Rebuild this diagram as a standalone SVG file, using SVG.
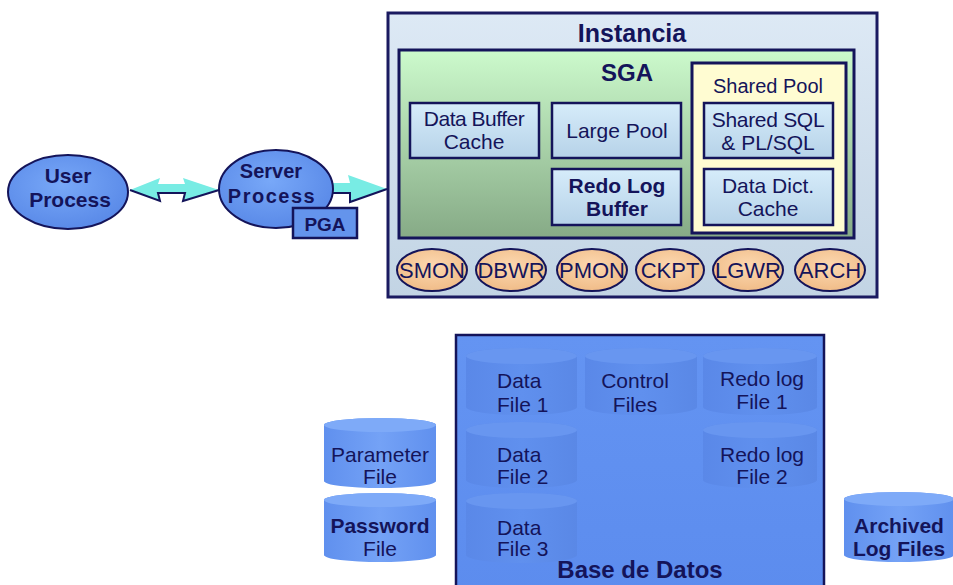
<svg xmlns="http://www.w3.org/2000/svg" width="953" height="585" viewBox="0 0 953 585">
<defs>
<linearGradient id="gInst" x1="0" y1="0" x2="0" y2="1"><stop offset="0" stop-color="#dde9f5"/><stop offset="1" stop-color="#c2d4e4"/></linearGradient>
<linearGradient id="gSga" x1="0" y1="0" x2="0" y2="1"><stop offset="0" stop-color="#ccfacc"/><stop offset="1" stop-color="#86aa86"/></linearGradient>
<linearGradient id="gBox" x1="0" y1="0" x2="0" y2="1"><stop offset="0" stop-color="#d6ecfa"/><stop offset="1" stop-color="#b6d2e8"/></linearGradient>
<radialGradient id="gBg" cx="0.5" cy="0.4" r="0.6"><stop offset="0" stop-color="#fcd8b0"/><stop offset="1" stop-color="#f0bc88"/></radialGradient>
<radialGradient id="gProc" cx="0.45" cy="0.4" r="0.6"><stop offset="0" stop-color="#78a8f8"/><stop offset="1" stop-color="#5a8ae8"/></radialGradient>
<linearGradient id="gDb" x1="0" y1="0" x2="0" y2="1"><stop offset="0" stop-color="#6494f2"/><stop offset="1" stop-color="#5c8cee"/></linearGradient>
<linearGradient id="gCylIn" x1="0" y1="0" x2="1" y2="0"><stop offset="0" stop-color="#5a88e8"/><stop offset="0.5" stop-color="#6090ee"/><stop offset="1" stop-color="#5a88e6"/></linearGradient>
<linearGradient id="gCylOut" x1="0" y1="0" x2="1" y2="0"><stop offset="0" stop-color="#6090ee"/><stop offset="0.5" stop-color="#74a2f6"/><stop offset="1" stop-color="#6090ee"/></linearGradient>
</defs>
<style>
text{font-family:"Liberation Sans",Arial,sans-serif;fill:#14145a;text-anchor:middle}
.t{font-size:21px}
.b{font-weight:bold}
.st{text-anchor:start}
.box{fill:url(#gBox);stroke:#14145a;stroke-width:2.5}
.bg{fill:url(#gBg);stroke:#14145a;stroke-width:2}
.proc{fill:url(#gProc);stroke:#14145a;stroke-width:2}
.cin{fill:url(#gCylIn)}
.cintop{fill:#6896f0}
.cout{fill:url(#gCylOut)}
.couttop{fill:#7eaaf8}
.arrow{fill:#78ece4}
.ashadow{fill:none;stroke:#14145a;stroke-width:2}
</style>

<g id="connectors">
  <polygon class="arrow" points="130,190 160,178 158,184 185,184 183,178 219,190 183,201 185,193 158,193 160,201"/>
  <polyline class="ashadow" points="130,190 160,201 158,193 185,193 183,201 219,190"/>
  <polygon class="arrow" points="333,183 350,183 348,175 387,189 350,202 350,193 333,193"/>
  <polyline class="ashadow" points="333,193 350,193 350,202 387,189"/>
</g>

<g id="user-process">
  <ellipse class="proc" cx="68" cy="192" rx="60" ry="37"/>
  <text class="b" x="68" y="183" font-size="21">User</text>
  <text class="b" x="70" y="207" font-size="21">Process</text>
</g>

<g id="server-process">
  <ellipse class="proc" cx="276" cy="189" rx="57" ry="39"/>
  <text class="b" x="271" y="178" font-size="20">Server</text>
  <text class="b" x="272" y="203" font-size="20" letter-spacing="1.5">Process</text>
</g>

<g id="pga">
  <rect x="293" y="208" width="64" height="30" fill="#6494ec" stroke="#14145a" stroke-width="2.5"/>
  <text class="b" x="325" y="231" font-size="19">PGA</text>
</g>

<g id="instancia">
  <rect x="388" y="13" width="489" height="284" fill="url(#gInst)" stroke="#1a1a60" stroke-width="3"/>
  <text class="b" x="632" y="42" font-size="25">Instancia</text>
</g>

<g id="sga">
  <rect x="399" y="50" width="455" height="188" fill="url(#gSga)" stroke="#14145a" stroke-width="3"/>
  <text class="b" x="627" y="81" font-size="24">SGA</text>
</g>

<g id="shared-pool">
  <rect x="692" y="63" width="154" height="170" fill="#fffcd2" stroke="#14145a" stroke-width="3"/>
  <text x="768" y="93" font-size="20">Shared Pool</text>
</g>

<g id="data-buffer-cache">
  <rect class="box" x="410" y="103" width="129" height="55"/>
  <text class="t" x="474" y="126" letter-spacing="-0.5">Data Buffer</text>
  <text class="t" x="474" y="149">Cache</text>
</g>

<g id="large-pool">
  <rect class="box" x="552" y="103" width="129" height="55"/>
  <text class="t" x="617" y="138">Large Pool</text>
</g>

<g id="redo-log-buffer">
  <rect class="box" x="552" y="169" width="129" height="56"/>
  <text class="t b" x="617" y="193" font-size="20">Redo Log</text>
  <text class="t b" x="617" y="216" font-size="20">Buffer</text>
</g>

<g id="shared-sql">
  <rect class="box" x="704" y="103" width="129" height="55"/>
  <text class="t" x="768" y="127" letter-spacing="-0.3">Shared SQL</text>
  <text class="t" x="768" y="150">&amp; PL/SQL</text>
</g>

<g id="data-dict-cache">
  <rect class="box" x="704" y="169" width="129" height="56"/>
  <text class="t" x="768" y="193">Data Dict.</text>
  <text class="t" x="768" y="216">Cache</text>
</g>

<g id="smon">
  <ellipse class="bg" cx="432" cy="270" rx="35" ry="21"/>
  <text x="432" y="278" font-size="22">SMON</text>
</g>
<g id="dbwr">
  <ellipse class="bg" cx="511" cy="270" rx="35" ry="21"/>
  <text x="511" y="278" font-size="22">DBWR</text>
</g>
<g id="pmon">
  <ellipse class="bg" cx="592" cy="270" rx="35" ry="21"/>
  <text x="592" y="278" font-size="22">PMON</text>
</g>
<g id="ckpt">
  <ellipse class="bg" cx="670" cy="270" rx="34" ry="21"/>
  <text x="670" y="278" font-size="22">CKPT</text>
</g>
<g id="lgwr">
  <ellipse class="bg" cx="748" cy="270" rx="35" ry="21"/>
  <text x="748" y="278" font-size="22">LGWR</text>
</g>
<g id="arch">
  <ellipse class="bg" cx="830" cy="270" rx="35" ry="21"/>
  <text x="830" y="278" font-size="22">ARCH</text>
</g>

<g id="base-de-datos">
  <rect x="456" y="335" width="368" height="260" fill="url(#gDb)" stroke="#14145a" stroke-width="2.5"/>
  <text class="b" x="640" y="578" font-size="24">Base de Datos</text>
</g>

<g id="data-file-1">
  <path class="cin" d="M466,356 A55.5,8 0 0 1 577,356 V407 A55.5,8 0 0 1 466,407 Z"/>
  <ellipse class="cintop" cx="521.5" cy="356" rx="55.5" ry="8"/>
  <text class="t st" x="497" y="388">Data</text>
  <text class="t st" x="497" y="412">File 1</text>
</g>
<g id="control-files">
  <path class="cin" d="M585,356 A56,8 0 0 1 697,356 V407 A56,8 0 0 1 585,407 Z"/>
  <ellipse class="cintop" cx="641" cy="356" rx="56" ry="8"/>
  <text class="t" x="635" y="388">Control</text>
  <text class="t" x="635" y="412">Files</text>
</g>
<g id="redo-log-file-1">
  <path class="cin" d="M703,356 A57,8 0 0 1 817,356 V407 A57,8 0 0 1 703,407 Z"/>
  <ellipse class="cintop" cx="760" cy="356" rx="57" ry="8"/>
  <text class="t" x="762" y="386">Redo log</text>
  <text class="t" x="762" y="409">File 1</text>
</g>
<g id="data-file-2">
  <path class="cin" d="M466,430 A55.5,8 0 0 1 577,430 V480 A55.5,8 0 0 1 466,480 Z"/>
  <ellipse class="cintop" cx="521.5" cy="430" rx="55.5" ry="8"/>
  <text class="t st" x="497" y="462">Data</text>
  <text class="t st" x="497" y="484">File 2</text>
</g>
<g id="redo-log-file-2">
  <path class="cin" d="M703,430 A57,8 0 0 1 817,430 V480 A57,8 0 0 1 703,480 Z"/>
  <ellipse class="cintop" cx="760" cy="430" rx="57" ry="8"/>
  <text class="t" x="762" y="462">Redo log</text>
  <text class="t" x="762" y="484">File 2</text>
</g>
<g id="data-file-3">
  <path class="cin" d="M466,501 A55.5,8 0 0 1 577,501 V555 A55.5,8 0 0 1 466,555 Z"/>
  <ellipse class="cintop" cx="521.5" cy="501" rx="55.5" ry="8"/>
  <text class="t st" x="497" y="535">Data</text>
  <text class="t st" x="497" y="556">File 3</text>
</g>

<g id="parameter-file">
  <path class="cout" d="M324,425 A56,7 0 0 1 436,425 V481 A56,7 0 0 1 324,481 Z"/>
  <ellipse class="couttop" cx="380" cy="425" rx="56" ry="7"/>
  <text class="t" x="380" y="462">Parameter</text>
  <text class="t" x="380" y="484">File</text>
</g>
<g id="password-file">
  <path class="cout" d="M324,500 A56,7 0 0 1 436,500 V555 A56,7 0 0 1 324,555 Z"/>
  <ellipse class="couttop" cx="380" cy="500" rx="56" ry="7"/>
  <text class="t b" x="380" y="533">Password</text>
  <text class="t" x="380" y="556">File</text>
</g>
<g id="archived-log-files">
  <path class="cout" d="M844,499 A55,7 0 0 1 954,499 V555 A55,7 0 0 1 844,555 Z"/>
  <ellipse class="couttop" cx="899" cy="499" rx="55" ry="7"/>
  <text class="t b" x="899" y="533">Archived</text>
  <text class="t b" x="899" y="556">Log Files</text>
</g>
</svg>
